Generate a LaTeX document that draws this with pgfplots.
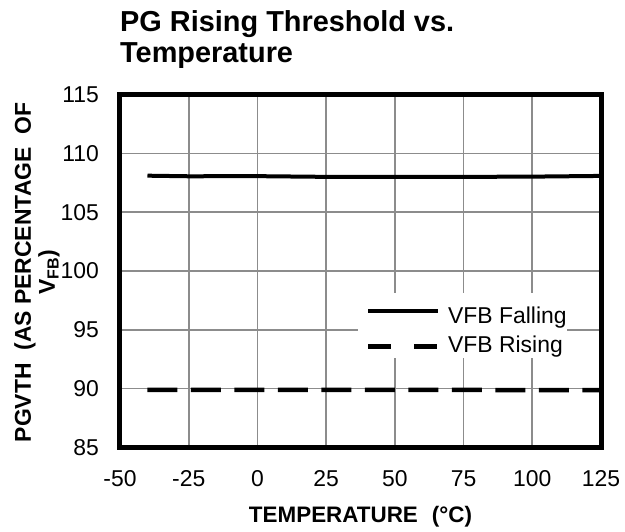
\documentclass[border=0pt]{standalone}
\usepackage{pgfplots}
\pgfplotsset{compat=1.18}
\usepackage{fontspec}
\setmainfont{Liberation Sans}
\pgfplotsset{
  solidleg/.style={legend image code/.code={\path[draw=none,fill=none] (-10bp,0bp) rectangle (80bp,0bp); \draw[##1] (0bp,0bp) -- (70bp,0bp);}},
  dashleg/.style={legend image code/.code={\path[draw=none,fill=none] (-10bp,0bp) rectangle (80bp,0bp); \draw[##1,dash pattern=on 23bp off 23bp] (0bp,0bp) -- (70bp,0bp);}},
}
\pgfplotstableread{
x y
-40 108.10
-25 108.05
0 108.06
25 108.00
50 108.00
75 108.00
100 108.02
125 108.08
}\falling
\pgfplotstableread{
x y
-40 89.90
-25 89.90
0 89.90
25 89.90
50 89.90
75 89.89
100 89.88
125 89.88
}\rising
\begin{document}
\begin{tikzpicture}
\useasboundingbox (-120bp,-84.5bp) rectangle (505bp,447.5bp);
\begin{axis}[
  at={(0,0)}, anchor=south west,
  scale only axis, width=481bp, height=353bp,
  xmin=-50, xmax=125, ymin=85, ymax=115,
  xtick={-50,-25,0,25,50,75,100,125}, ytick={85,90,95,100,105,110,115},
  xticklabels={-50,-25,0,25,50,75,100,125},
  grid=major, major grid style={line width=1.6bp, color=black!45},
  axis line style={line width=5bp},
  major tick length=0pt,
  tick label style={font=\fontsize{23}{27}\selectfont},
  /pgf/number format/assume math mode=true,
  xticklabel style={anchor=base, inner sep=0pt, yshift=-39.5bp},
  yticklabel style={anchor=east, inner sep=0pt, xshift=-21bp},
  legend style={at={(0.4948,0.4377)}, anchor=north west, draw=none, fill=white,
    inner sep=0pt, font=\fontsize{23}{27}\selectfont, row sep=6bp,
    nodes={inner sep=0pt, text depth=6bp}},
  legend cell align=left,
]
\addplot[black, line width=4bp, solidleg] table {\falling};
\addlegendentry{\rule{0pt}{30bp}VFB Falling\hspace{11bp}}
\addplot[black, line width=4.5bp, dash pattern=on 30bp off 13.5bp, dashleg] table {\rising};
\addlegendentry{\rule{0pt}{17bp}VFB Rising}
\end{axis}
\node[anchor=base west, inner sep=0pt, font=\fontsize{29}{32}\selectfont\bfseries] at (0bp,415.5bp) {PG Rising Threshold vs.};
\node[anchor=base west, inner sep=0pt, font=\fontsize{29}{32}\selectfont\bfseries] at (0bp,384.5bp) {Temperature};
\node[anchor=base, inner sep=0pt, font=\fontsize{22.5}{26}\selectfont\bfseries] at (240.5bp,-74.5bp) {TEMPERATURE\hspace{14bp}(°C)};
\node[anchor=base, rotate=90, inner sep=0pt, font=\fontsize{23}{26}\selectfont\bfseries] at (-89bp,175bp) {PGVTH\ \ (AS PERCENTAGE\ \ OF};
\node[anchor=base, rotate=90, inner sep=0pt, font=\fontsize{23}{26}\selectfont\bfseries] at (-65bp,175bp) {V\textsubscript{FB})};
\end{tikzpicture}
\end{document}
